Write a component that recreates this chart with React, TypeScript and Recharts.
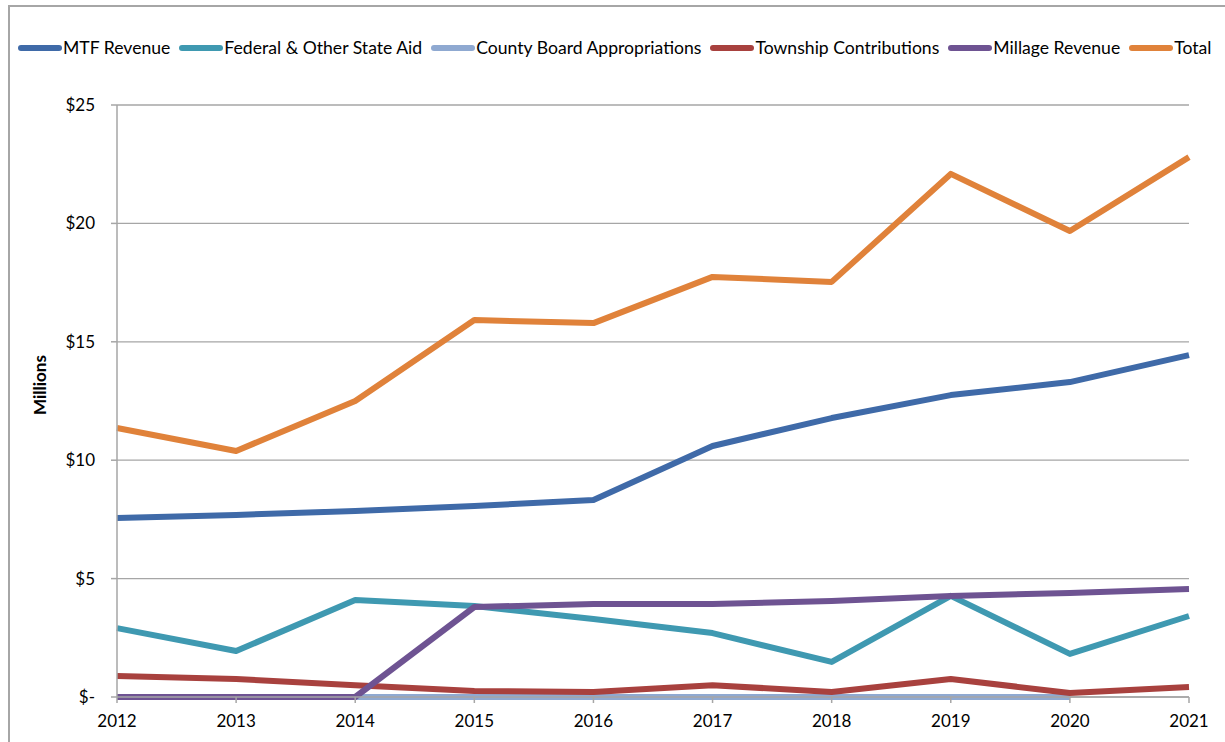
import { LineChart, Line, XAxis, YAxis, CartesianGrid } from "recharts";

const years = ["2012", "2013", "2014", "2015", "2016", "2017", "2018", "2019", "2020", "2021"];

// values in $ millions
const mtfRevenue = [7.56, 7.69, 7.85, 8.07, 8.32, 10.6, 11.78, 12.75, 13.3, 14.44];
const federalStateAid = [2.91, 1.94, 4.1, 3.84, 3.29, 2.7, 1.48, 4.27, 1.82, 3.42];
const countyBoard = [0, 0, 0, 0, 0, 0, 0, 0, 0, null];
const townshipContrib = [0.89, 0.76, 0.5, 0.25, 0.21, 0.5, 0.21, 0.76, 0.17, 0.42];
const millageRevenue = [0, 0, 0, 3.8, 3.93, 3.93, 4.05, 4.27, 4.39, 4.56];
const total = [11.36, 10.39, 12.5, 15.92, 15.79, 17.74, 17.53, 22.09, 19.68, 22.8];

const yTicks = [0, 5, 10, 15, 20, 25];

const SERIES = [
  { key: "mtf", name: "MTF Revenue", color: "#3F6AA8", values: mtfRevenue },
  { key: "fed", name: "Federal & Other State Aid", color: "#3F99B1", values: federalStateAid },
  { key: "county", name: "County Board Appropriations", color: "#8FA9D1", values: countyBoard },
  { key: "township", name: "Township Contributions", color: "#A8413E", values: townshipContrib },
  { key: "millage", name: "Millage Revenue", color: "#6E5392", values: millageRevenue },
  { key: "total", name: "Total", color: "#E0823A", values: total },
];

const data = years.map((year, i) => {
  const row: Record<string, string | number | null> = { year };
  SERIES.forEach((s) => {
    row[s.key] = s.values[i];
  });
  return row;
});

const FONT = "Lato, 'Open Sans', sans-serif";
const GRID = "#A6A6A6";

function MillionsLabel(props: { viewBox?: { x: number; y: number; width: number; height: number } }) {
  const vb = props.viewBox;
  if (!vb) return null;
  const x = 46;
  const y = vb.y + vb.height / 2 - 16;
  return (
    <text
      x={x}
      y={y}
      transform={`rotate(-90, ${x}, ${y})`}
      textAnchor="middle"
      fontSize={17}
      fontWeight={700}
      fontFamily={FONT}
      fill="#000"
    >
      Millions
    </text>
  );
}

export default function App() {
  return (
    <div style={{ position: "relative", width: 1225, height: 742, background: "#fff", overflow: "hidden" }}>
      <style>{`body{margin:0}`}</style>
      {/* chart frame */}
      <div
        style={{
          position: "absolute",
          left: 8,
          top: 5,
          width: 1240,
          height: 760,
          borderLeft: `2px solid ${GRID}`,
          borderTop: `2px solid ${GRID}`,
        }}
      />
      {/* legend */}
      <div
        style={{
          position: "absolute",
          left: 17,
          top: 37,
          display: "flex",
          whiteSpace: "nowrap",
          fontFamily: FONT,
          fontSize: 17.6,
          color: "#000",
          alignItems: "center",
        }}
      >
        {SERIES.map((s) => (
          <span key={s.key} style={{ display: "flex", alignItems: "center", marginRight: 8 }}>
            <svg width={46} height={10} style={{ display: "block" }}>
              <line x1={4} y1={5} x2={42} y2={5} stroke={s.color} strokeWidth={6} strokeLinecap="round" />
            </svg>
            <span>{s.name}</span>
          </span>
        ))}
      </div>
      <div style={{ position: "absolute", left: 0, top: 0 }}>
        <LineChart width={1225} height={742} data={data} margin={{ top: 105, right: 36, left: 0, bottom: 0 }}>
          <CartesianGrid vertical={false} stroke={GRID} strokeWidth={1.3} />
          <XAxis
            dataKey="year"
            height={45}
            tickSize={6}
            tickMargin={12}
            axisLine={{ stroke: GRID, strokeWidth: 1.5 }}
            tickLine={{ stroke: GRID, strokeWidth: 1.5 }}
            tick={{ fill: "#000", fontSize: 17, fontFamily: FONT }}
            interval={0}
          />
          <YAxis
            width={117}
            domain={[0, 25]}
            ticks={yTicks}
            tickFormatter={(v: number) => (v === 0 ? "$-" : `$${v}`)}
            tickSize={6}
            tickMargin={16}
            axisLine={{ stroke: GRID, strokeWidth: 1.5 }}
            tickLine={{ stroke: GRID, strokeWidth: 1.5 }}
            tick={{ fill: "#000", fontSize: 17, fontFamily: FONT }}
            label={<MillionsLabel />}
          />
          {SERIES.map((s) => (
            <Line
              key={s.key}
              type="linear"
              dataKey={s.key}
              name={s.name}
              stroke={s.color}
              strokeWidth={6}
              strokeLinejoin="round"
              dot={false}
              activeDot={false}
              isAnimationActive={false}
            />
          ))}
        </LineChart>
      </div>
    </div>
  );
}
